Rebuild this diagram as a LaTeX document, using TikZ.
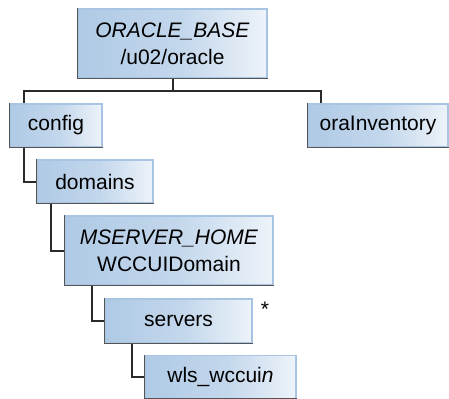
\documentclass[tikz,border=0pt]{standalone}
\usepackage{fontspec}
\setmainfont{Liberation Sans}
\usetikzlibrary{calc}
\definecolor{shA}{HTML}{AFCAE5}
\definecolor{shB}{HTML}{C3D7EC}
\definecolor{shC}{HTML}{EDF3F9}
\definecolor{bordlight}{HTML}{A7C4E2}
\definecolor{borddark}{HTML}{555555}
\definecolor{linec}{HTML}{2A2A2A}
\pgfdeclarehorizontalshading{boxshade}{100bp}{color(0bp)=(shA); color(25bp)=(shA); color(52bp)=(shB); color(75bp)=(shC); color(100bp)=(shC)}
\tikzset{
  box/.style={draw=bordlight, line width=0.6pt, shading=boxshade, inner sep=0pt,
    align=center, font=\fontsize{10.5}{13.5}\selectfont, text=black,
    append after command={
      (\tikzlastnode.north west) edge[darkedge] (\tikzlastnode.south west)
      (\tikzlastnode.south west) edge[darkedge] (\tikzlastnode.south east)}},
  darkedge/.style={draw=borddark, line width=0.7pt, line cap=square},
  conn/.style={draw=linec, line width=1pt},
  note/.style={font=\fontsize{10.5}{13.5}\selectfont, inner sep=0pt}
}
\begin{document}
\begin{tikzpicture}[x=0.5pt,y=-0.5pt]
\useasboundingbox (0,0) rectangle (449,398);
\node[box, minimum width=94.5pt, minimum height=34.5pt] (base) at (172.5,43.5) {\textit{ORACLE\_BASE}\\/u02/oracle};
\node[box, minimum width=46pt, minimum height=21.5pt] (config) at (56,125.5) {config};
\node[box, minimum width=70pt, minimum height=21.5pt] (orainv) at (378,125.5) {oraInventory};
\node[box, minimum width=58pt, minimum height=21.5pt] (domains) at (95,181.5) {domains};
\node[box, minimum width=104pt, minimum height=34.5pt] (mserver) at (169,250.5) {\textit{MSERVER\_HOME}\\WCCUIDomain};
\node[box, minimum width=73.5pt, minimum height=22pt] (servers) at (178.5,321) {servers};
\node[box, minimum width=75.5pt, minimum height=21.5pt] (wls) at (220.5,377) {wls\_wccui\textit{n}};
\node[note, anchor=base] (star) at (265,316.5) {*};
% connectors
\draw[conn] (base.south) -- ++(0,12) coordinate (j1);
\draw[conn] (j1) -| ($(config.north west)+(15,0)$);
\draw[conn] (j1) -| ($(orainv.north west)+(14,0)$);
\draw[conn] ($(config.south west)+(15,0)$) |- (domains.west);
\draw[conn] ($(domains.south west)+(15,0)$) |- (mserver.west);
\draw[conn] ($(mserver.south west)+(28,0)$) |- (servers.west);
\draw[conn] ($(servers.south west)+(28,0)$) |- (wls.west);
\end{tikzpicture}
\end{document}
